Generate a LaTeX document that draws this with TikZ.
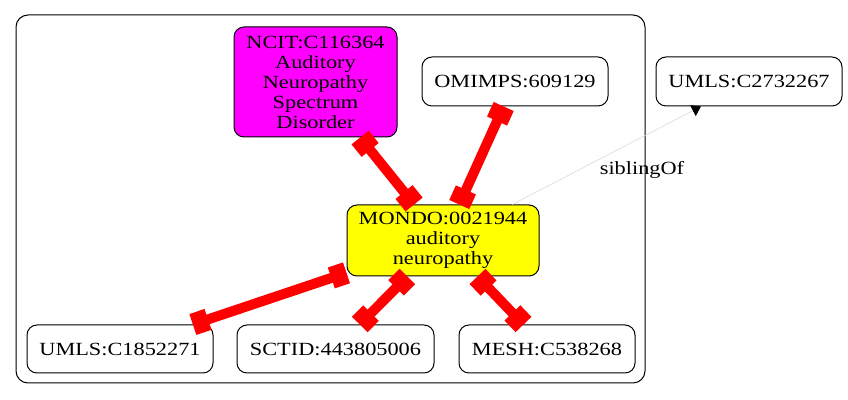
\documentclass[tikz,border=0pt]{standalone}
\usepackage{fontspec}
\setmainfont{Liberation Serif}[FakeStretch=1.2]
\usetikzlibrary{arrows.meta}

\definecolor{ncitfill}{RGB}{255,0,255}
\definecolor{mondofill}{RGB}{255,255,0}
\definecolor{xrefred}{RGB}{255,0,0}

\tikzset{
  term/.style={draw,rectangle,rounded corners=5pt,line width=0.5pt,
    align=center,inner sep=0pt,font=\fontsize{9.3}{10}\selectfont},
  xref/.style={draw=xrefred,line width=5pt,
    {Square[length=8pt,width=11pt]}-{Square[length=8pt,width=11pt]}},
  sibling/.style={draw=black!15,line width=0.3pt,
    -{Triangle[length=4.5pt,width=6pt,black]}}
}

\begin{document}
\begin{tikzpicture}[x=0.5pt,y=-0.5pt]

      \useasboundingbox (0,0) rectangle (848,400);

      % cluster
      \draw[rounded corners=6pt,line width=0.5pt] (16,15) rectangle (645,383);

      \begin{scope}[every node/.style={term}]
        \node[fill=ncitfill,minimum width=81.5pt,minimum height=55pt] (ncit) at (315.5,82)
          {NCIT:C116364\\Auditory\\Neuropathy\\Spectrum\\Disorder};
        \node[minimum width=93pt,minimum height=24.5pt] (omimps) at (515,81.5) {OMIMPS:609129};
        \node[minimum width=93pt,minimum height=24.5pt] (umlsa) at (749,81.5) {UMLS:C2732267};
        \node[fill=mondofill,minimum width=96pt,minimum height=35.5pt] (mondo) at (443,240.5)
          {MONDO:0021944\\auditory\\neuropathy};
        \node[minimum width=93pt,minimum height=24pt] (umlsb) at (120,349) {UMLS:C1852271};
        \node[minimum width=98.5pt,minimum height=24pt] (sctid) at (335.5,349) {SCTID:443805006};
        \node[minimum width=88pt,minimum height=24pt] (mesh) at (547,349) {MESH:C538268};
      \end{scope}

      \begin{scope}[every edge/.style={xref}]
        \path (ncit)   edge (mondo);
        \path (omimps) edge (mondo);
        \path (umlsb)  edge (mondo);
        \path (sctid)  edge (mondo);
        \path (mesh)   edge (mondo);
      \end{scope}

      \path (mondo) edge[sibling] (umlsa);
      \node[font=\fontsize{9.3}{10}\selectfont] (sibl) at (642,170) {siblingOf};

    \end{tikzpicture}
\end{document}
